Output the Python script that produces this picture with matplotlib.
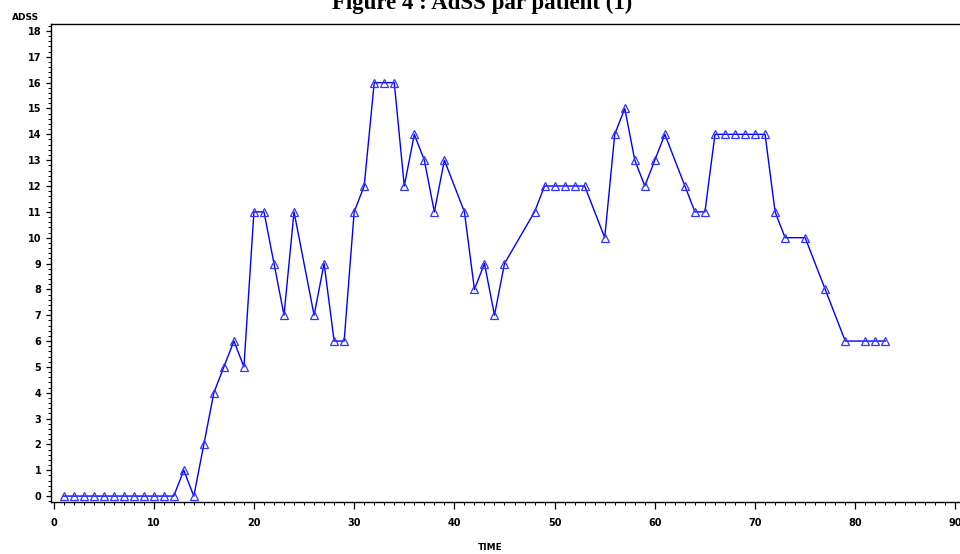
import matplotlib
matplotlib.use("Agg")
import matplotlib.pyplot as plt
from matplotlib.ticker import MultipleLocator

# ADSS score per visit time (patient 1)
time = [1, 2, 3, 4, 5, 6, 7, 8, 9, 10, 11, 12, 13, 14, 15, 16, 17, 18, 19,
        20, 21, 22, 23, 24, 26, 27, 28, 29, 30, 31, 32, 33, 34, 35, 36, 37,
        38, 39, 41, 42, 43, 44, 45, 48, 49, 50, 51, 52, 53, 55, 56, 57, 58,
        59, 60, 61, 63, 64, 65, 66, 67, 68, 69, 70, 71, 72, 73, 75, 77, 79,
        81, 82, 83]
adss = [0, 0, 0, 0, 0, 0, 0, 0, 0, 0, 0, 0, 1, 0, 2, 4, 5, 6, 5,
        11, 11, 9, 7, 11, 7, 9, 6, 6, 11, 12, 16, 16, 16, 12, 14, 13,
        11, 13, 11, 8, 9, 7, 9, 11, 12, 12, 12, 12, 12, 10, 14, 15, 13,
        12, 13, 14, 12, 11, 11, 14, 14, 14, 14, 14, 14, 11, 10, 10, 8, 6,
        6, 6, 6]

x_ticks = list(range(0, 91, 10))
y_ticks = list(range(0, 19))

fig = plt.figure(figsize=(9.6, 5.54), dpi=100)
ax = fig.add_axes([50.5 / 960, 52.5 / 554, 1 - 50.5 / 960, (501.5 - 24) / 554])

ax.plot(time, adss, color='#0000ff', linewidth=1.0, marker='^',
        markersize=5.5, markerfacecolor='none', markeredgecolor='#3333ff',
        markeredgewidth=0.9)

ax.set_xlim(-0.3, 90.45)
ax.set_ylim(-0.21, 18.27)
ax.set_xticks(x_ticks)
ax.set_yticks(y_ticks)
ax.xaxis.set_minor_locator(MultipleLocator(1))
ax.yaxis.set_minor_locator(MultipleLocator(0.2))

ax.spines['right'].set_visible(False)
for s in ['left', 'bottom', 'top']:
    ax.spines[s].set_linewidth(1.0)

ax.tick_params(axis='x', which='major', length=5, width=0.9, direction='out', pad=7)
ax.tick_params(axis='x', which='minor', length=2.5, width=0.7, direction='out')
ax.tick_params(axis='y', which='major', length=3.5, width=0.9, direction='out', pad=3)
ax.tick_params(axis='y', which='minor', length=2, width=0.7, direction='out')
for lab in ax.get_xticklabels() + ax.get_yticklabels():
    lab.set_fontsize(7)
    lab.set_fontweight('bold')
    lab.set_family('DejaVu Sans')

fig.text(26 / 960, 1 - 17 / 554, 'ADSS', fontsize=6.5, fontweight='bold',
         ha='center', va='center', family='DejaVu Sans')
fig.text(490 / 960, 1 - 548 / 554, 'TIME', fontsize=6.5, fontweight='bold',
         ha='center', va='center', family='DejaVu Sans')
fig.text(482 / 960, 1 - 9 / 554, 'Figure 4 : AdSS par patient (1)', fontsize=16.5,
         fontweight='bold', ha='center', va='baseline', family='Liberation Serif')

fig.savefig('out.png', dpi=100)
